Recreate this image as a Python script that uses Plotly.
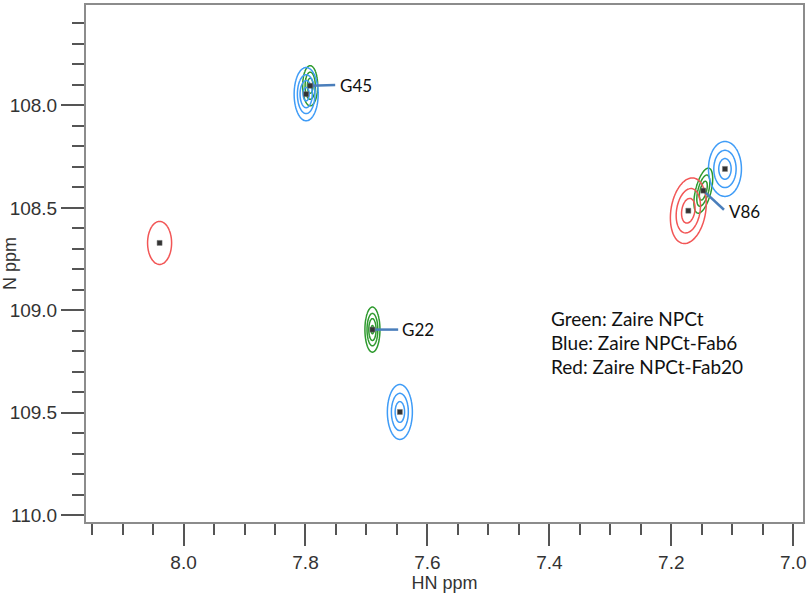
import numpy as np
import plotly.graph_objects as go

# ---- peak data (HN ppm, N ppm) ----
spec_colors = {"Green": "#2e9a2e", "Blue": "#3f9cf7", "Red": "#f25656"}

peak_spectrum = ["Green", "Green", "Green", "Blue", "Blue", "Blue", "Red", "Red"]
peak_hn = [7.7923, 7.6902, 7.1475, 7.7989, 7.6452, 7.1120, 8.0393, 7.1721]
peak_n = [107.904, 109.094, 108.416, 107.945, 109.496, 108.310, 108.671, 108.514]
# half-width of the outermost contour (ppm)
peak_half_hn = [0.0123, 0.0123, 0.0130, 0.0197, 0.0205, 0.0270, 0.0197, 0.0287]
peak_half_n = [0.098, 0.110, 0.110, 0.130, 0.134, 0.134, 0.105, 0.160]
# relative peak height (in units of the lowest contour level)
peak_height = [3.6, 4.2, 3.8, 4.4, 3.6, 3.6, 1.5, 3.6]
peak_tilt = [0.0, 0.0, 0.075, 0.0, 0.0, 0.0, 0.0, 0.04]

# ---- assignments ----
label_text = ["G45", "G22", "V86"]
label_peak = [0, 1, 2]
leader_end_hn = [7.7513, 7.6480, 7.1136]
leader_end_n = [107.900, 109.094, 108.509]
label_hn = [7.7472, 7.6448, 7.1082]
label_n = [107.904, 109.094, 108.517]

legend_lines = ["Green: Zaire NPCt", "Blue: Zaire NPCt-Fab6", "Red: Zaire NPCt-Fab20"]
legend_hn = 7.4005
legend_n = [109.040, 109.158, 109.274]

x_range = [8.16, 6.984]
y_range = [110.033, 107.51]

fig = go.Figure()

for i in range(len(peak_hn)):
    A = peak_height[i]
    k = np.sqrt(2 * np.log(A))
    sx = peak_half_hn[i] / k
    sy = peak_half_n[i] / k
    t = peak_tilt[i]
    ys = np.linspace(peak_n[i] - 3.4 * sy, peak_n[i] + 3.4 * sy, 90)
    xs = np.linspace(peak_hn[i] - 3.4 * sx - abs(t) * 3.4 * sy,
                     peak_hn[i] + 3.4 * sx + abs(t) * 3.4 * sy, 90)
    X, Y = np.meshgrid(xs, ys)
    U = (X - peak_hn[i] - t * (Y - peak_n[i])) / sx
    V = (Y - peak_n[i]) / sy
    Z = np.round(A * np.exp(-(U ** 2 + V ** 2) / 2), 4)
    fig.add_trace(go.Contour(
        x=np.round(xs, 5), y=np.round(ys, 5), z=Z,
        autocontour=False,
        contours=dict(start=1, end=10, size=1, coloring="none"),
        line=dict(color=spec_colors[peak_spectrum[i]], width=1.5, smoothing=1),
        showscale=False, hoverinfo="skip", showlegend=False,
    ))

# leader lines
for j in range(len(label_text)):
    p = label_peak[j]
    fig.add_trace(go.Scatter(
        x=[peak_hn[p], leader_end_hn[j]], y=[peak_n[p], leader_end_n[j]],
        mode="lines", line=dict(color="#4a7ebb", width=2.5),
        showlegend=False, hoverinfo="skip",
    ))

# peak markers
fig.add_trace(go.Scatter(
    x=peak_hn, y=peak_n, mode="markers",
    marker=dict(symbol="square", size=5, color="#333333",
                line=dict(color="#777777", width=0.5)),
    showlegend=False, hoverinfo="skip",
))

for j in range(len(label_text)):
    fig.add_annotation(x=label_hn[j], y=label_n[j], text=label_text[j],
                       showarrow=False, xanchor="left", yanchor="middle",
                       font=dict(family="Lato", size=17, color="#111111"))

for j in range(len(legend_lines)):
    fig.add_annotation(x=legend_hn, y=legend_n[j], text=legend_lines[j],
                       showarrow=False, xanchor="left", yanchor="middle",
                       font=dict(family="Lato", size=19, color="#111111"))

axis_common = dict(
    showline=True, linecolor="#8c8c8c", linewidth=2, mirror=True,
    showgrid=False, zeroline=False, automargin=False,
    ticks="outside", tickcolor="#555555", tickwidth=1.5,
    tickformat=".1f",
    tickfont=dict(family="Liberation Sans", size=19, color="#333333"),
)

fig.update_xaxes(
    range=x_range, dtick=0.2, tick0=7.0, ticklen=22,
    minor=dict(dtick=0.05, tick0=7.0, ticklen=11, ticks="outside",
               tickcolor="#555555", tickwidth=1.5),
    title=dict(text="HN ppm", standoff=5,
               font=dict(family="Liberation Sans", size=18, color="#333333")),
    **axis_common,
)
fig.update_yaxes(
    range=y_range, dtick=0.5, tick0=108.0, ticklen=23,
    minor=dict(dtick=0.1, tick0=108.0, ticklen=12, ticks="outside",
               tickcolor="#555555", tickwidth=1.5),
    title=dict(text="N ppm", standoff=8,
               font=dict(family="Liberation Sans", size=18, color="#333333")),
    **axis_common,
)

fig.update_layout(
    width=809, height=595,
    margin=dict(l=86, r=6, t=5, b=73),
    plot_bgcolor="white", paper_bgcolor="white",
)

fig.write_html("out.html", config={"displayModeBar": False},
               post_script="document.body.style.margin='0';document.body.style.overflow='hidden';")
